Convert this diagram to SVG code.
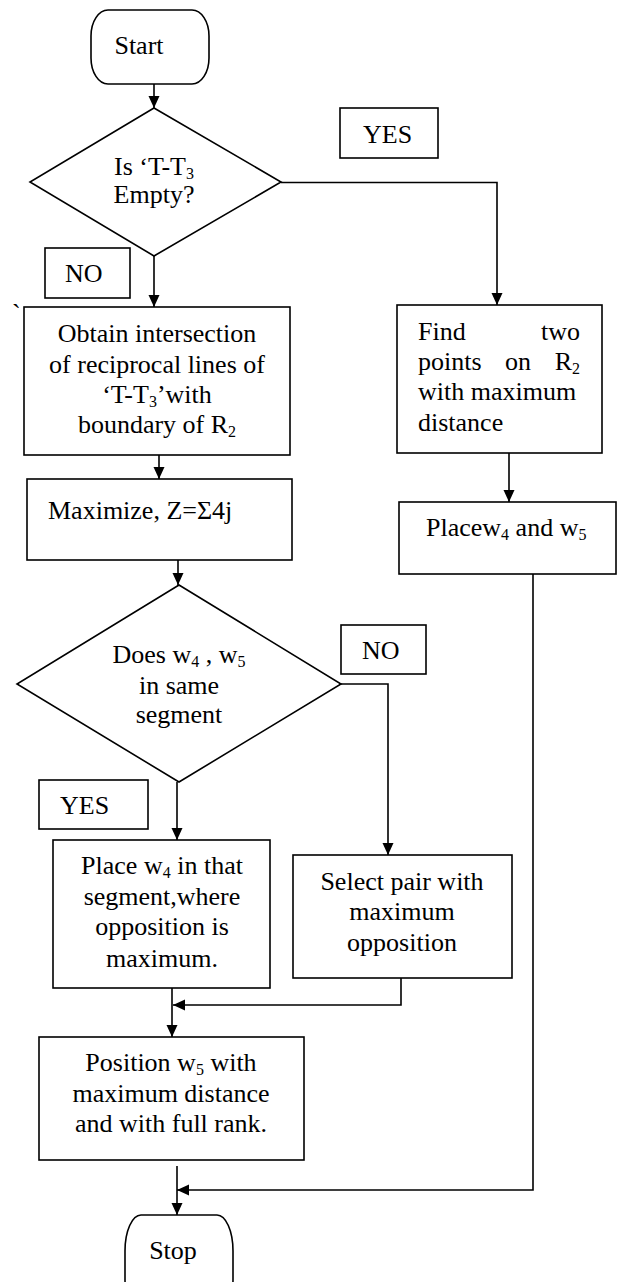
<svg xmlns="http://www.w3.org/2000/svg" width="620" height="1282" viewBox="0 0 620 1282" font-family="'Liberation Serif', 'Times New Roman', serif">
<defs>
<style>
.s{fill:#fff;stroke:#000;stroke-width:1.6}
text{font-family:'Liberation Serif','Times New Roman',serif;font-size:26px;fill:#000}
.m{text-anchor:middle}
.c{fill:none;stroke:#000;stroke-width:1.6}
</style>
<marker id="ah" markerUnits="userSpaceOnUse" markerWidth="12" markerHeight="12" refX="12" refY="6" orient="auto" viewBox="0 0 12 12"><path d="M0,0.5 L12,6 L0,11.5 Z" fill="#000"/></marker>
</defs>
<rect width="620" height="1282" fill="#fff"/>
<g id="connectors">
<path class="c" d="M154,84 V108" marker-end="url(#ah)"/>
<path class="c" d="M281,182.5 H497 V305" marker-end="url(#ah)"/>
<path class="c" d="M154,256 V307" marker-end="url(#ah)"/>
<path class="c" d="M159,455 V479" marker-end="url(#ah)"/>
<path class="c" d="M178,560 V585" marker-end="url(#ah)"/>
<path class="c" d="M341,684 H388 V855" marker-end="url(#ah)"/>
<path class="c" d="M177,782 V840" marker-end="url(#ah)"/>
<path class="c" d="M509,453 V502" marker-end="url(#ah)"/>
<path class="c" d="M172,988 V1037" marker-end="url(#ah)"/>
<path class="c" d="M401,978 V1005 H173" marker-end="url(#ah)"/>
<path class="c" d="M177,1166 V1215" marker-end="url(#ah)"/>
<path class="c" d="M533,574 V1190 H177" marker-end="url(#ah)"/>
</g>
<g id="start">
<rect class="s" x="91" y="10" width="118" height="74" rx="17" ry="26"/>
<text class="m" x="139" y="54">Start</text>
</g>
<g id="decision1">
<polygon class="s" points="154,108 281,182 154,256 30,182"/>
<text class="m" x="154" y="175">Is ‘T-T<tspan font-size="16" dy="4">3</tspan></text>
<text class="m" x="154" y="203">Empty?</text>
</g>
<g id="label-yes1">
<rect class="s" x="340" y="108" width="98" height="50"/>
<text x="363" y="143">YES</text>
</g>
<g id="label-no1">
<rect class="s" x="45" y="248" width="85" height="50"/>
<text x="65" y="282">NO</text>
</g>
<g id="tick">
<text x="12" y="322">`</text>
</g>
<g id="obtain">
<rect class="s" x="24" y="307" width="266" height="148"/>
<text class="m" x="157" y="342">Obtain intersection</text>
<text class="m" x="157" y="373">of reciprocal lines of</text>
<text class="m" x="157" y="403">‘T-T<tspan font-size="16" dy="4">3</tspan><tspan dy="-4">’with</tspan></text>
<text class="m" x="157" y="433">boundary of R<tspan font-size="16" dy="4">2</tspan></text>
</g>
<g id="maximize">
<rect class="s" x="27" y="479" width="265" height="81"/>
<text x="48" y="519">Maximize, Z=Σ4j</text>
</g>
<g id="find">
<rect class="s" x="397" y="305" width="205" height="148"/>
<text x="418" y="340">Find</text>
<text x="580" y="340" text-anchor="end">two</text>
<text x="418" y="370">points</text>
<text x="505" y="370">on</text>
<text x="580" y="370" text-anchor="end">R<tspan font-size="16" dy="4">2</tspan></text>
<text x="418" y="400">with maximum</text>
<text x="418" y="431">distance</text>
</g>
<g id="placew">
<rect class="s" x="399" y="502" width="217" height="72"/>
<text x="426" y="536">Placew<tspan font-size="16" dy="4">4</tspan><tspan dy="-4"> and w</tspan><tspan font-size="16" dy="4">5</tspan></text>
</g>
<g id="decision2">
<polygon class="s" points="179,585 341,684 179,782 17,684"/>
<text class="m" x="179" y="663">Does w<tspan font-size="16" dy="4">4</tspan><tspan dy="-4"> , w</tspan><tspan font-size="16" dy="4">5</tspan></text>
<text class="m" x="179" y="694">in same</text>
<text class="m" x="179" y="723">segment</text>
</g>
<g id="label-no2">
<rect class="s" x="341" y="625" width="85" height="49"/>
<text x="362" y="659">NO</text>
</g>
<g id="label-yes2">
<rect class="s" x="39" y="780" width="109" height="49"/>
<text x="60" y="814">YES</text>
</g>
<g id="place4">
<rect class="s" x="53" y="840" width="217" height="148"/>
<text class="m" x="162" y="874">Place w<tspan font-size="16" dy="4">4</tspan><tspan dy="-4"> in that</tspan></text>
<text class="m" x="162" y="905">segment,where</text>
<text class="m" x="162" y="935">opposition is</text>
<text class="m" x="162" y="967">maximum.</text>
</g>
<g id="select">
<rect class="s" x="293" y="855" width="219" height="123"/>
<text class="m" x="402" y="890">Select pair with</text>
<text class="m" x="402" y="920">maximum</text>
<text class="m" x="402" y="951">opposition</text>
</g>
<g id="position">
<rect class="s" x="39" y="1037" width="265" height="123"/>
<text class="m" x="171" y="1071">Position w<tspan font-size="16" dy="4">5</tspan><tspan dy="-4"> with</tspan></text>
<text class="m" x="171" y="1102">maximum distance</text>
<text class="m" x="171" y="1132">and with full rank.</text>
</g>
<g id="stop">
<rect class="s" x="125" y="1215" width="108" height="100" rx="16" ry="36"/>
<text class="m" x="173" y="1259">Stop</text>
</g>
</svg>
